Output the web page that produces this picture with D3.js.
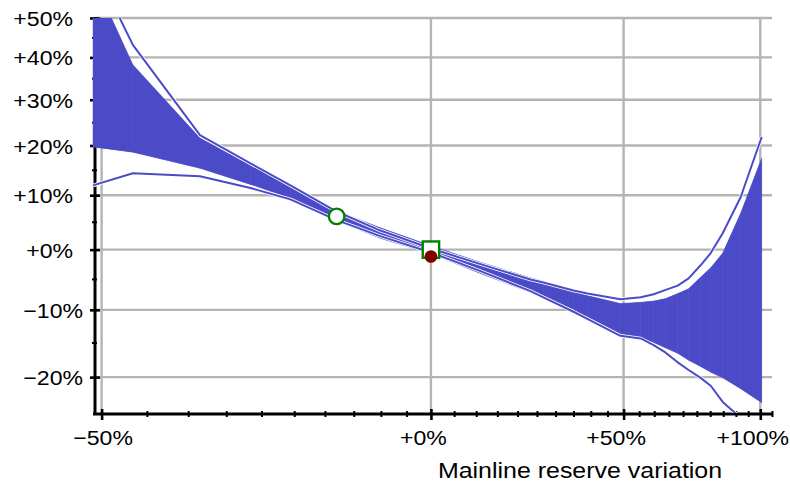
<!DOCTYPE html>
<html>
<head>
<meta charset="utf-8">
<script src="https://cdn.jsdelivr.net/npm/d3@7"></script>
<style>
  body { margin: 0; background: #fff; }
  text { font-family: 'Liberation Sans', Arial, sans-serif; fill: #000; }
</style>
</head>
<body>
<svg class="chart-svg" width="790" height="483"></svg>
<script>
// mainline reserve variation (%) at each sample
const variation = [-50.9, -46.6, -38.5, -31.6, -25.6, -18, -10.1, 0, 11, 23.3, 26.7, 35, 39, 49,
  55.5, 59.8, 63.9, 68.1, 72, 76.4, 80.2, 84.8, 91.9, 100.6]
// filled band, upper and lower edge (%)
const bandHigh = [61, 38.2, 21.6, 15.9, 11.8, 7.0, 3.9, 0.7, -2.2, -4.8, -5.4, -7.0, -7.7, -9.0,
  -8.8, -8.6, -8.2, -7.4, -6.6, -4.7, -3.1, -0.6, 6.6, 17.4]
const bandLow = [19.7, 18.6, 15.3, 12.1, 9.4, 5.2, 2.0, -0.7, -4.1, -7.2, -8.1, -10.0, -11.1, -13.7,
  -14.3, -15.0, -15.8, -16.6, -17.6, -18.5, -19.3, -20.1, -21.6, -23.5]
// outline curves (%)
const lineHigh = [65, 43.1, 22.2, 16.3, 11.9, 6.9, 3.4, 0.2, -2.5, -5.1, -5.6, -6.9, -7.4, -8.3,
  -8.0, -7.5, -6.8, -6.1, -4.9, -2.7, -0.6, 2.9, 9.6, 21.8]
const lineLow = [11.9, 14.3, 13.7, 11.4, 9.2, 5.3, 2.4, -0.5, -3.7, -7.0, -8.0, -10.3, -11.4, -14.0,
  -14.4, -15.4, -16.5, -17.9, -19.0, -20.1, -21.2, -23.4, -25.5, -28]

// markers [x %, y %]
const circleMarker = [-18, 6]
const squareMarker = [0, 0]
const dotMarker = [0, -1.2]

const xMajorTicks = [-50, 0, 50, 100]
const xMinorTicks = [-45, -40, -35, -30, -25, -20, -15, -10, -5, 5, 10, 15, 20, 25, 30, 35, 40, 45,
  55, 60, 65, 70, 75, 80, 85, 90, 95, 105]
const yMajorTicks = [-20, -10, 0, 10, 20, 30, 40, 50]
const yMinorTicks = [-15, -5, 5, 15, 25, 35, 45]
const xTitle = 'Mainline reserve variation'

const BLUE = '#4b4bc8'
const GRID = '#b4b4b4'
const GREEN = '#008000'

const svg = d3.select('.chart-svg')

const xScale = d3.scaleLog().domain([0.49, 2.05]).range([92, 772])
const yScale = d3.scaleLog().domain([0.75, 1.5]).range([414, 18])
const px = v => xScale(1 + v / 100)
const py = v => yScale(1 + v / 100)

/**
 * Formats a variation as a signed percentage.
 *
 * @param {number} r The ratio (1 + variation)
 * @returns {string} The label
 */
function formatPct (r) {
  const v = Math.round((r - 1) * 100)
  return (v < 0 ? '\u2212' : '+') + Math.abs(v) + '%'
}

/**
 * Draws the gray grid lines at the major ticks.
 */
function drawGrid () {
  const g = svg.append('g').attr('class', 'grid')
  g.selectAll('.hgrid')
    .data(yMajorTicks)
    .enter()
    .append('line')
    .attr('x1', 96).attr('x2', 772)
    .attr('y1', d => py(d)).attr('y2', d => py(d))
    .attr('stroke', GRID).attr('stroke-width', 2.4)
  g.selectAll('.vgrid')
    .data(xMajorTicks)
    .enter()
    .append('line')
    .attr('x1', d => px(d)).attr('x2', d => px(d))
    .attr('y1', 18).attr('y2', 414)
    .attr('stroke', GRID).attr('stroke-width', 2.4)
}

/**
 * Draws both axes with major and minor ticks.
 */
function drawAxes () {
  const yMinor = svg.append('g')
    .attr('transform', 'translate(95,0)')
    .call(d3.axisLeft(yScale).tickValues(yMinorTicks.map(v => 1 + v / 100)).tickFormat('').tickSizeOuter(0))
  yMinor.select('.domain').remove()
  yMinor.selectAll('.tick line').attr('x1', -3).attr('x2', 2).attr('stroke-width', 2)

  const yAxis = svg.append('g')
    .attr('class', 'y axis')
    .attr('transform', 'translate(95,0)')
    .call(d3.axisLeft(yScale).tickValues(yMajorTicks.map(v => 1 + v / 100)).tickFormat(formatPct).tickSizeOuter(0))
  yAxis.select('.domain').attr('stroke-width', 3).attr('d', 'M0,17V415')
  yAxis.selectAll('.tick line').attr('x1', -5).attr('x2', 5).attr('stroke-width', 2.6)
  yAxis.selectAll('.tick text')
    .attr('x', d => -(d < 1 ? 12 : 22) / 1.1)
    .attr('dy', '0.36em')
    .attr('transform', 'scale(1.1,1)')
    .style('font-size', '21px')
    .style('font-family', "'Liberation Sans', Arial, sans-serif")

  const xMinor = svg.append('g')
    .attr('transform', 'translate(0,414)')
    .call(d3.axisBottom(xScale).tickValues(xMinorTicks.map(v => 1 + v / 100)).tickFormat('').tickSizeOuter(0))
  xMinor.select('.domain').remove()
  xMinor.selectAll('.tick line').attr('y1', -3).attr('y2', 3).attr('stroke-width', 2)

  const xAxis = svg.append('g')
    .attr('class', 'x axis')
    .attr('transform', 'translate(0,414)')
    .call(d3.axisBottom(xScale).tickValues(xMajorTicks.map(v => 1 + v / 100)).tickFormat(formatPct).tickSizeOuter(0))
  xAxis.select('.domain').attr('stroke-width', 3).attr('d', 'M93,0H773')
  xAxis.selectAll('.tick line').attr('y1', -5).attr('y2', 6).attr('stroke-width', 2.6)
  xAxis.selectAll('.tick text')
    .attr('x', d => (d < 1 ? 1 : -8) / 1.1)
    .attr('y', 31)
    .attr('dy', 0)
    .attr('transform', 'scale(1.1,1)')
    .style('font-size', '21px')
    .style('font-family', "'Liberation Sans', Arial, sans-serif")

  svg.append('text')
    .attr('class', 'x-title')
    .attr('transform', 'translate(580,478) scale(1.085,1)')
    .attr('text-anchor', 'middle')
    .style('font-size', '23px')
    .text(xTitle)
}

/**
 * Draws the filled band (one strip per interval over a solid underlay),
 * then the two outline curves with a white halo.
 */
function drawCurves () {
  svg.append('clipPath').attr('id', 'plot-clip')
    .append('rect').attr('x', 92).attr('y', 18).attr('width', 681).attr('height', 395)

  const g = svg.append('g').attr('clip-path', 'url(#plot-clip)')
  const rows = variation.map((v, i) => ({ x: v, hi: bandHigh[i], lo: bandLow[i] }))
  const area = d3.area().x(d => px(d.x)).y0(d => py(d.lo)).y1(d => py(d.hi))
  g.append('path')
    .attr('d', area(rows))
    .attr('fill', BLUE)
  const strips = d3.range(rows.length - 1).map(i => [rows[i], rows[i + 1]])
  g.selectAll('.strip')
    .data(strips)
    .enter()
    .append('path')
    .attr('class', 'strip')
    .attr('d', area)
    .attr('fill', BLUE)
    .attr('stroke', '#5c5cd0')
    .attr('stroke-width', 0.4)

  const line = d3.line().x(d => px(d[0])).y(d => py(d[1]))
  const curves = [lineHigh, lineLow].map(s => variation.map((v, i) => [v, s[i]]))
  g.selectAll('.halo')
    .data(curves)
    .enter()
    .append('path')
    .attr('d', line)
    .attr('fill', 'none')
    .attr('stroke', '#fff')
    .attr('stroke-width', 3.6)
    .attr('stroke-linejoin', 'round')
  g.selectAll('.curve')
    .data(curves)
    .enter()
    .append('path')
    .attr('d', line)
    .attr('fill', 'none')
    .attr('stroke', BLUE)
    .attr('stroke-width', 2)
    .attr('stroke-linejoin', 'round')
}

/**
 * Draws the reference markers.
 */
function drawMarkers () {
  svg.append('circle')
    .attr('cx', px(circleMarker[0])).attr('cy', py(circleMarker[1]))
    .attr('r', 7.8)
    .attr('fill', '#fff').attr('stroke', GREEN).attr('stroke-width', 2.3)
  svg.append('rect')
    .attr('x', px(squareMarker[0]) - 8.2).attr('y', py(squareMarker[1]) - 8.2)
    .attr('width', 16.4).attr('height', 16.4)
    .attr('fill', '#fff').attr('stroke', GREEN).attr('stroke-width', 2.4)
  svg.append('circle')
    .attr('cx', px(dotMarker[0])).attr('cy', py(dotMarker[1]))
    .attr('r', 6.3)
    .attr('fill', '#800000')
}

drawGrid()
drawAxes()
drawCurves()
drawMarkers()
</script>
</body>
</html>
